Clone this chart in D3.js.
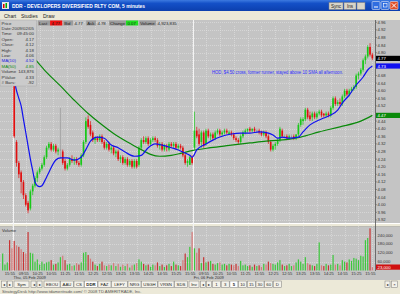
<!DOCTYPE html>
<html><head><meta charset="utf-8">
<script src="https://cdn.jsdelivr.net/npm/d3@7"></script>
<style>
body{margin:0;background:#ece9d8;overflow:hidden}
svg{display:block;font-family:"Liberation Sans",Arial,sans-serif}
</style></head><body><svg id="c" width="400" height="294"></svg>
<script>
// 5-minute bars: Feb 4 close (5 bars), Feb 5 (78 bars), Feb 6 (78 bars)
const opens = [4.70,4.69,4.69,4.70,4.67,
 4.64,4.33,4.22,4.17,4.12,4.05,4.01,3.98,4.07,4.10,4.14,4.17,4.19,4.21,4.25,4.30,4.32,4.29,4.31,4.28,
 4.29,4.28,4.23,4.19,4.21,4.24,4.23,4.24,4.22,4.21,4.26,4.33,4.45,4.42,4.38,4.34,4.35,4.34,4.36,4.33,
 4.30,4.32,4.29,4.30,4.27,4.28,4.24,4.25,4.22,4.24,4.21,4.23,4.20,4.23,4.21,4.30,4.34,4.33,4.35,4.32,
 4.34,4.35,4.34,4.31,4.32,4.29,4.31,4.29,4.32,4.31,4.32,4.30,4.31,4.30,4.26,4.22,4.21,4.25,
 4.30,4.39,4.37,4.33,4.38,4.32,4.39,4.36,4.37,4.35,4.38,4.39,4.37,4.38,4.39,4.37,4.38,4.37,4.35,4.34,
 4.33,4.36,4.38,4.39,4.40,4.39,4.40,4.39,4.39,4.38,4.37,4.38,4.36,4.33,4.29,4.31,4.32,4.34,4.39,4.36,
 4.36,4.35,4.36,4.36,4.35,4.37,4.42,4.44,4.45,4.50,4.47,4.46,4.48,4.46,4.48,4.49,4.48,4.47,4.48,4.47,
 4.51,4.56,4.53,4.54,4.53,4.57,4.60,4.58,4.60,4.61,4.62,4.68,4.69,4.71,4.76,4.78,4.83,4.79];
const highs = [4.72,4.71,4.71,4.71,4.69,
 4.66,4.34,4.23,4.18,4.13,4.06,4.02,4.08,4.11,4.15,4.18,4.20,4.22,4.26,4.31,4.33,4.33,4.32,4.32,4.30,
 4.51,4.29,4.24,4.22,4.25,4.26,4.25,4.25,4.23,4.27,4.34,4.46,4.47,4.44,4.39,4.36,4.36,4.37,4.37,4.34,
 4.33,4.33,4.31,4.31,4.29,4.29,4.26,4.26,4.25,4.25,4.24,4.24,4.24,4.24,4.31,4.35,4.36,4.36,4.36,4.35,
 4.36,4.36,4.35,4.33,4.33,4.32,4.32,4.33,4.33,4.33,4.33,4.32,4.32,4.31,4.27,4.24,4.26,4.26,
 4.49,4.41,4.40,4.39,4.39,4.40,4.40,4.38,4.38,4.39,4.40,4.40,4.39,4.40,4.40,4.39,4.39,4.38,4.36,4.35,
 4.37,4.39,4.40,4.40,4.41,4.40,4.41,4.40,4.40,4.39,4.39,4.39,4.37,4.34,4.32,4.33,4.35,4.41,4.40,4.37,
 4.37,4.37,4.37,4.37,4.37,4.43,4.46,4.46,4.51,4.51,4.49,4.49,4.49,4.49,4.50,4.50,4.48,4.49,4.49,4.52,
 4.57,4.57,4.55,4.56,4.58,4.61,4.61,4.61,4.62,4.63,4.69,4.70,4.72,4.77,4.79,4.84,4.85,4.80];
const lows = [4.69,4.68,4.68,4.66,4.64,
 4.35,4.20,4.14,4.06,4.03,3.99,3.955,3.97,4.05,4.09,4.12,4.16,4.18,4.20,4.24,4.29,4.28,4.28,4.27,4.26,
 4.24,4.21,4.18,4.18,4.20,4.22,4.21,4.21,4.20,4.20,4.25,4.32,4.40,4.36,4.33,4.32,4.33,4.33,4.32,4.29,
 4.29,4.28,4.27,4.26,4.25,4.23,4.22,4.21,4.21,4.20,4.20,4.19,4.19,4.19,4.20,4.29,4.32,4.32,4.31,4.31,
 4.33,4.33,4.30,4.29,4.28,4.28,4.28,4.28,4.30,4.30,4.29,4.29,4.29,4.25,4.21,4.20,4.21,4.21,
 4.29,4.35,4.31,4.30,4.30,4.31,4.35,4.34,4.34,4.34,4.37,4.36,4.36,4.37,4.37,4.37,4.36,4.34,4.33,4.32,
 4.32,4.35,4.37,4.38,4.38,4.38,4.38,4.38,4.37,4.36,4.36,4.35,4.32,4.28,4.28,4.29,4.31,4.33,4.35,4.35,
 4.34,4.34,4.35,4.34,4.34,4.36,4.41,4.42,4.44,4.45,4.44,4.44,4.45,4.45,4.47,4.46,4.46,4.46,4.46,4.46,
 4.50,4.52,4.52,4.52,4.52,4.56,4.57,4.57,4.59,4.60,4.61,4.66,4.68,4.70,4.74,4.77,4.78,4.76];
const closes = [4.71,4.70,4.70,4.67,4.65,
 4.36,4.22,4.16,4.12,4.05,4.00,3.97,4.07,4.10,4.14,4.17,4.19,4.21,4.25,4.30,4.32,4.29,4.31,4.28,4.29,
 4.29,4.22,4.19,4.21,4.24,4.23,4.24,4.22,4.21,4.26,4.33,4.44,4.41,4.37,4.34,4.35,4.34,4.36,4.33,4.30,
 4.32,4.29,4.30,4.27,4.28,4.24,4.25,4.22,4.24,4.21,4.23,4.20,4.23,4.20,4.30,4.34,4.33,4.35,4.32,4.34,
 4.35,4.34,4.31,4.32,4.29,4.31,4.30,4.32,4.31,4.32,4.30,4.31,4.30,4.26,4.22,4.23,4.25,4.22,
 4.39,4.36,4.32,4.38,4.31,4.39,4.36,4.37,4.35,4.38,4.39,4.37,4.38,4.39,4.38,4.38,4.37,4.35,4.34,4.33,
 4.36,4.38,4.39,4.40,4.39,4.40,4.39,4.39,4.38,4.37,4.38,4.36,4.33,4.29,4.31,4.32,4.34,4.40,4.36,4.36,
 4.35,4.36,4.36,4.35,4.37,4.42,4.45,4.45,4.50,4.46,4.45,4.48,4.46,4.48,4.49,4.47,4.47,4.48,4.47,4.51,
 4.56,4.53,4.54,4.53,4.57,4.60,4.58,4.60,4.61,4.62,4.68,4.69,4.71,4.76,4.78,4.83,4.79,4.77];
// volume in thousands of shares
const volumes = [115,40,55,205,150,
 200,170,160,144,125,115,260,120,115,60,75,40,60,45,55,60,70,40,45,55,
 90,100,70,40,45,30,35,50,40,55,120,125,105,80,60,40,30,45,60,35,
 30,40,35,50,30,45,25,40,30,45,20,35,40,50,75,60,45,35,40,25,
 40,35,55,30,40,25,35,45,30,60,40,35,30,70,115,90,160,260,
 150,120,150,50,90,55,60,65,45,40,50,55,40,45,35,45,40,35,45,30,
 65,35,40,30,35,25,40,30,35,25,45,40,60,50,45,40,55,70,40,30,
 35,45,30,35,55,75,60,45,90,50,40,35,30,45,190,35,30,45,35,40,
 105,40,45,35,70,60,55,75,65,85,80,70,100,95,205,220,285,23];

// moving averages at selected bars
const ma10Bars = [5,6,7,8,9,10,11,12,13,14,15,16,17,18,19,20,23,25,28,31,34,36,38,41,44,47,50,53,57,60,63,66,69,73,76,78,81,82,84,88,91,94,99,103,107,111,115,117,119,121,124,128,130,133,137,139,142,145,147,150,153,156,158,160];
const ma10Vals = [4.66,4.60,4.56,4.52,4.45,4.38,4.31,4.24,4.18,4.12,4.10,4.095,4.10,4.12,4.145,4.17,4.235,4.246,4.246,4.235,4.25,4.29,4.335,4.356,4.35,4.314,4.30,4.277,4.255,4.26,4.30,4.32,4.314,4.30,4.288,4.277,4.26,4.25,4.288,4.32,4.34,4.356,4.372,4.377,4.377,4.383,4.377,4.367,4.35,4.356,4.35,4.356,4.383,4.42,4.446,4.456,4.472,4.498,4.535,4.577,4.63,4.672,4.709,4.73];
const ma50Bars = [8,13,18,25,31,37,42,48,54,60,64,68,73,77,82,90,98,107,114,120,129,137,146,155,160];
const ma50Vals = [4.85,4.78,4.71,4.625,4.55,4.48,4.43,4.375,4.33,4.29,4.265,4.255,4.26,4.27,4.285,4.30,4.312,4.325,4.335,4.34,4.356,4.383,4.41,4.44,4.47];

const priceTicks = [3.92,3.96,4.00,4.04,4.08,4.12,4.16,4.20,4.24,4.28,4.32,4.36,4.40,4.44,4.48,4.52,4.56,4.60,4.64,4.68,4.72,4.76,4.80,4.84,4.88,4.92,4.96];
const volTicks = [60000,120000,180000,240000];
const timeLabels = ["15:55","09:55","10:25","10:55","11:25","11:55","12:25","12:55","13:25","13:55","14:25","14:55","15:25","15:55",
 "09:55","10:25","10:55","11:25","11:55","12:25","12:55","13:25","13:55","14:25","14:55","15:25","15:55"];
const dayLabels = ["Thu, 05 Feb 2009","Fri, 06 Feb 2009"];
const dayStarts = [5, 83];
const infoRows = [["Price",""],["Date:","2009/02/05"],["Time:","09:45:00"],["Open:","4.17"],["Close:","4.12"],["High:","4.18"],["Low:","4.06"],["MA(10)","4.52"],["MA(50)","4.85"],["Volume","143,876"],["PValue","4.33"],["# Bars:","-92"]];
const quote = [["Last","4.77"],["Bid","4.77"],["Ask","4.78"],["Change","0.07"],["Volume","4,923,835"]];
const symbols = ["EBOU","AAU","CS","DDR","FAZ","LEFY","NRG","USGH","VRSN","SDS"];
const periods = ["1","3","5","10","15","30","60","D"];

const svg = d3.select("#c");
const N = closes.length;
const BG = "#c4c4c4", GRID = "#e2e2e2";

const x = d3.scaleBand().domain(d3.range(N)).range([1.5, 373.5]);
const xc = i => x(i) + x.bandwidth() / 2;
const y = d3.scaleLinear().domain([3.92, 4.96]).range([219.9, 22.3]);
const yv = d3.scaleLinear().domain([0, 240000]).range([270.5, 235]);

// ---- window chrome ----
const tg = svg.append("defs").append("linearGradient").attr("id", "tb").attr("x1", 0).attr("x2", 0).attr("y1", 0).attr("y2", 1);
tg.append("stop").attr("offset", 0).attr("stop-color", "#3d7ae0");
tg.append("stop").attr("offset", 0.3).attr("stop-color", "#1450c8");
tg.append("stop").attr("offset", 1).attr("stop-color", "#0c3fae");
svg.append("rect").attr("width", 400).attr("height", 11).attr("fill", "url(#tb)");
svg.append("rect").attr("x", 2).attr("y", 2).attr("width", 7).attr("height", 7).attr("fill", "#e8e8e8");
svg.append("rect").attr("x", 3).attr("y", 4).attr("width", 1.5).attr("height", 4).attr("fill", "#d00");
svg.append("rect").attr("x", 5.5).attr("y", 3).attr("width", 1.5).attr("height", 5).attr("fill", "#0a0");
svg.append("text").attr("x", 12).attr("y", 8.2).attr("fill", "#fff").attr("font-weight", "bold")
  .attr("font-size", 6.2).attr("textLength", 133).attr("lengthAdjust", "spacingAndGlyphs")
  .text("DDR - DEVELOPERS DIVERSIFIED RLTY COM, 5 minutes");
[["Sync", 329, 14], ["Ins", 344, 12], ["", 357, 8]].forEach(([t, bx, bw]) => {
  svg.append("rect").attr("x", bx).attr("y", 2.5).attr("width", bw).attr("height", 7).attr("fill", "#d8d4c8").attr("stroke", "#7f7f7f").attr("stroke-width", 0.5);
  svg.append("text").attr("x", bx + bw / 2).attr("y", 7.8).attr("text-anchor", "middle").attr("font-size", 4.6).attr("fill", "#222").text(t);
});
[["#2f6de0", 372], ["#2f6de0", 381], ["#e0502a", 390]].forEach(([c, bx]) => {
  svg.append("rect").attr("x", bx).attr("y", 1.5).attr("width", 8).attr("height", 8).attr("rx", 1).attr("fill", c).attr("stroke", "#fff").attr("stroke-width", 0.5);
});
svg.append("path").attr("d", "M391.8,3.3L396.2,7.7M396.2,3.3L391.8,7.7").attr("stroke", "#fff").attr("stroke-width", 1);
svg.append("rect").attr("x", 374).attr("y", 6.5).attr("width", 4).attr("height", 1).attr("fill", "#fff");
svg.append("rect").attr("x", 383.5).attr("y", 3.5).attr("width", 3.5).attr("height", 3.5).attr("fill", "none").attr("stroke", "#fff").attr("stroke-width", 0.6);

svg.append("rect").attr("y", 11).attr("width", 400).attr("height", 9).attr("fill", "#ece9d8");
[["Chart", 4], ["Studies", 21], ["Draw", 43]].forEach(([t, tx]) => {
  svg.append("text").attr("x", tx).attr("y", 17.5).attr("font-size", 5).attr("fill", "#222").text(t);
});

// ---- panels ----
svg.append("rect").attr("y", 20).attr("width", 400).attr("height", 203).attr("fill", BG);
svg.append("rect").attr("y", 223).attr("width", 400).attr("height", 4).attr("fill", "#ece9d8");
svg.append("line").attr("x1", 0).attr("x2", 400).attr("y1", 223.5).attr("y2", 223.5).attr("stroke", "#fff");
svg.append("line").attr("x1", 0).attr("x2", 400).attr("y1", 226.5).attr("y2", 226.5).attr("stroke", "#9a9a9a").attr("stroke-width", 0.6);
svg.append("rect").attr("y", 227).attr("width", 400).attr("height", 53).attr("fill", BG);

// grid
const tickBars = timeLabels.map((t, k) => 4 + 6 * k);
const grid = svg.append("g").attr("stroke", GRID).attr("stroke-width", 0.6).attr("stroke-dasharray", "1,1");
grid.selectAll(".h").data(priceTicks).join("line")
  .attr("x1", 0).attr("x2", 375).attr("y1", d => Math.round(y(d)) + 0.5).attr("y2", d => Math.round(y(d)) + 0.5);
grid.selectAll(".hv").data(volTicks).join("line")
  .attr("x1", 0).attr("x2", 375).attr("y1", d => Math.round(yv(d)) + 0.5).attr("y2", d => Math.round(yv(d)) + 0.5);
grid.selectAll(".v").data(tickBars).join("line")
  .attr("x1", d => Math.round(xc(d)) + 0.5).attr("x2", d => Math.round(xc(d)) + 0.5).attr("y1", 26).attr("y2", 271);

// day separators
svg.selectAll(".sep").data(dayStarts).join("line")
  .attr("x1", d => Math.round(x(d)) + 0.5).attr("x2", d => Math.round(x(d)) + 0.5)
  .attr("y1", 20).attr("y2", 271).attr("stroke", "#f4f4f4").attr("stroke-width", 1);

// ---- candles ----
const bars = d3.range(N).map(i => ({ i, o: opens[i], h: highs[i], l: lows[i], c: closes[i], v: volumes[i] * 1000 }));
const col = d => d.c > d.o ? "#18c818" : d.c < d.o ? "#e01010" : "#8a8a8a";
svg.append("clipPath").attr("id", "pc").append("rect").attr("x", 0).attr("y", 20).attr("width", 375).attr("height", 203);
const cg = svg.append("g").attr("clip-path", "url(#pc)");
const bw = x.bandwidth() * 0.72;
cg.selectAll(".wick").data(bars).join("line")
  .attr("x1", d => xc(d.i)).attr("x2", d => xc(d.i)).attr("y1", d => y(d.h)).attr("y2", d => y(d.l))
  .attr("stroke", d => d.c === d.o ? "#9a9a9a" : col(d)).attr("stroke-width", 0.7);
cg.selectAll(".body").data(bars).join("rect")
  .attr("x", d => xc(d.i) - bw / 2).attr("width", bw)
  .attr("y", d => y(Math.max(d.o, d.c))).attr("height", d => Math.max(0.7, Math.abs(y(d.o) - y(d.c))))
  .attr("fill", col);

// moving averages
const line = d3.line().x(d => xc(d[0])).y(d => y(d[1])).curve(d3.curveMonotoneX);
cg.append("path").datum(ma50Bars.map((b, k) => [b, ma50Vals[k]])).attr("d", line)
  .attr("fill", "none").attr("stroke", "#0a8a0a").attr("stroke-width", 1.2);
cg.append("path").datum(ma10Bars.map((b, k) => [b, ma10Vals[k]])).attr("d", line)
  .attr("fill", "none").attr("stroke", "#1010f0").attr("stroke-width", 1.2);

// volume bars
const vcol = d => d.c >= d.o ? "#3cc83c" : (d.i % 2 ? "#c83434" : "#d87a7a");
svg.append("g").selectAll("rect").data(bars).join("rect")
  .attr("x", d => xc(d.i) - 0.6).attr("width", 1.2)
  .attr("y", d => yv(d.v)).attr("height", d => yv(0) - yv(d.v)).attr("fill", vcol);
svg.append("text").attr("x", 2).attr("y", 231.5).attr("font-size", 4.2).attr("fill", "#333").text("Volume");

// ---- info panel ----
svg.append("rect").attr("x", 0).attr("y", 20).attr("width", 36.5).attr("height", 66).attr("fill", "#cbcbcb").attr("stroke", "#a8a8a8").attr("stroke-width", 0.5);
const info = svg.append("g").attr("font-size", 4.4);
infoRows.forEach(([k, v], r) => {
  const c = k === "MA(10)" ? "#2020e0" : k === "MA(50)" ? "#108a10" : "#333";
  info.append("text").attr("x", 1.5).attr("y", 24.5 + r * 5.4).attr("fill", c).text(k);
  info.append("text").attr("x", 34).attr("y", 24.5 + r * 5.4).attr("text-anchor", "end").attr("fill", c).text(v);
});

// ---- quote strip ----
let qx = 38;
quote.forEach(([k, v]) => {
  const kw = k.length * 2.4 + 2.5, vw = v.length * 2.3 + 3;
  svg.append("rect").attr("x", qx).attr("y", 20.5).attr("width", kw).attr("height", 5).attr("fill", "#9c9c9c");
  svg.append("text").attr("x", qx + 1).attr("y", 24.5).attr("font-size", 4.3).attr("fill", "#222").text(k);
  qx += kw;
  const vb = k === "Last" ? "#f01010" : k === "Change" ? "#20e020" : "none";
  svg.append("rect").attr("x", qx).attr("y", 20.5).attr("width", vw).attr("height", 5).attr("fill", vb);
  svg.append("text").attr("x", qx + 1.5).attr("y", 24.5).attr("font-size", 4.3).attr("fill", "#222").text(v);
  qx += vw + 1;
});

// annotation
svg.append("text").attr("x", 212).attr("y", 74).attr("font-size", 4.6).attr("fill", "#3030ff")
  .attr("textLength", 131).attr("lengthAdjust", "spacingAndGlyphs")
  .text("HOD, $4.50 cross, former runner, stayed above 10 SMA all afternoon.");

// ---- right axis ----
const tags = [
  [y(closes[N - 1]), "#000", closes[N - 1].toFixed(2)],
  [y(ma10Vals[ma10Vals.length - 1]), "#1010f0", ma10Vals[ma10Vals.length - 1].toFixed(2)],
  [y(ma50Vals[ma50Vals.length - 1]), "#0a8a0a", ma50Vals[ma50Vals.length - 1].toFixed(2)],
  [yv(volumes[N - 1] * 1000), "#d01010", d3.format(",")(volumes[N - 1] * 1000)]
];
const freeOfTags = yy => tags.every(t => Math.abs(t[0] - yy) > 5);
svg.append("line").attr("x1", 375.5).attr("x2", 375.5).attr("y1", 20).attr("y2", 271).attr("stroke", "#555").attr("stroke-width", 0.8);
const ax = svg.append("g").attr("font-size", 4.2).attr("fill", "#333");
ax.selectAll("text.p").data(priceTicks.filter(d => freeOfTags(y(d)))).join("text")
  .attr("x", 377.5).attr("y", d => y(d) + 1.5).text(d => d.toFixed(2));
ax.selectAll("text.v").data(volTicks.filter(d => freeOfTags(yv(d)))).join("text")
  .attr("x", 377.5).attr("y", d => yv(d) + 1.5).text(d => d3.format(",")(d));
svg.append("g").attr("stroke", "#555").attr("stroke-width", 0.5).selectAll("line").data(priceTicks).join("line")
  .attr("x1", 375.5).attr("x2", 377).attr("y1", d => y(d)).attr("y2", d => y(d));
tags.forEach(([yy, fill, txt]) => {
  svg.append("rect").attr("x", 376).attr("y", yy - 2.6).attr("width", 24).attr("height", 5.2).attr("fill", fill);
  svg.append("text").attr("x", 377.5).attr("y", yy + 1.6).attr("font-size", 4.3).attr("fill", "#fff").text(txt);
});

// ---- time axis ----
svg.append("g").attr("font-size", 4.1).attr("fill", "#333").selectAll("text").data(timeLabels).join("text")
  .attr("x", (d, k) => xc(tickBars[k]) - 2).attr("y", 275).attr("text-anchor", "middle").text(d => d);
svg.append("g").attr("font-size", 4.1).attr("fill", "#333").selectAll("text").data(dayLabels).join("text")
  .attr("x", (d, k) => x(dayStarts[k]) + 0.5).attr("y", 279.3).text(d => d);

// ---- tab bar ----
svg.append("rect").attr("y", 280).attr("width", 400).attr("height", 14).attr("fill", "#ece9d8");
const btn = (bx, w, t, sel) => {
  svg.append("rect").attr("x", bx).attr("y", 281).attr("width", w).attr("height", 6.5)
    .attr("fill", sel ? "#fff" : "#f4f2ea").attr("stroke", "#7a7a7a").attr("stroke-width", 0.5);
  svg.append("text").attr("x", bx + w / 2).attr("y", 286).attr("text-anchor", "middle").attr("font-size", 4.3)
    .attr("font-weight", sel ? "bold" : null).attr("fill", "#222").text(t);
};
btn(1.5, 5, "\u25C2"); btn(7.5, 5, "\u25B8"); btn(14, 15, "Sym"); btn(31, 5, "\u25C2"); btn(37, 5, "\u25B8");
let sx = 44;
symbols.forEach(s => { const w = s.length * 3 + 4; btn(sx, w, s, s === "DDR"); sx += w + 0.5; });
btn(sx + 1, 10, "Inv"); sx += 12.5;
btn(sx, 5, "\u25C2"); btn(sx + 6, 5, "\u25B8"); sx += 12;
periods.forEach(p => { btn(sx, 8, p, p === "5"); sx += 8.7; });
btn(385, 5, "\u25B8"); btn(391.5, 6, "\u00D7");
svg.append("text").attr("x", 2).attr("y", 292.8).attr("font-size", 4.2).attr("fill", "#555")
  .text("StrategyDesk  http://www.tdameritrade.com/  \u00A9 2008 TD AMERITRADE, Inc.");
</script></body></html>
